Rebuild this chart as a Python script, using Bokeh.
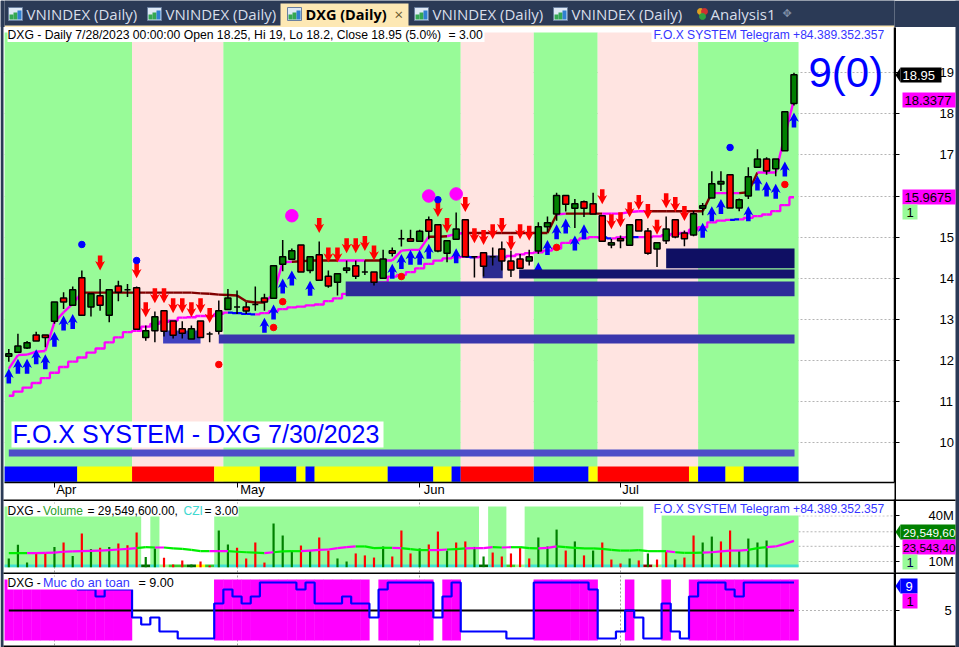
from bokeh.plotting import figure
from bokeh.layouts import column
from bokeh.models import Range1d, Label, BoxAnnotation, FixedTicker, Grid
from bokeh.core.properties import value
from bokeh.embed import file_html
from bokeh.resources import INLINE

# ---------- data ----------
opens = [12.10,12.20,12.30,12.62,12.62,12.95,13.52,13.34,14.01,13.30,13.57,13.10,13.81,13.72,13.77,12.56,12.72,13.21,12.96,12.77,
         12.52,12.96,12.64,12.71,13.24,13.30,13.30,13.36,13.52,13.51,14.34,14.46,14.81,14.19,14.57,14.05,13.90,14.195,14.30,14.15,
         14.15,14.00,14.67,14.96,14.96,14.90,15.42,15.30,14.61,14.95,15.42,14.52,14.62,14.52,14.71,14.42,14.47,14.42,14.66,15.25,
         15.56,16.01,15.70,15.86,15.81,15.52,14.81,14.96,14.80,15.42,15.15,14.71,14.91,15.42,15.10,15.05,15.70,15.95,16.29,16.52,
         15.71,16.00,16.70,16.90,16.66,17.10,18.25]
closes = [12.16,12.35,12.43,12.47,12.56,13.42,13.42,13.72,13.10,13.62,13.34,13.72,13.66,13.72,12.76,12.72,13.06,12.71,12.61,12.66,
          12.77,12.56,12.64,13.21,13.52,13.30,13.20,13.36,13.42,14.30,14.52,14.67,14.15,14.52,13.95,13.81,14.11,14.25,14.05,14.15,
          13.90,14.47,14.61,14.96,14.90,15.14,15.14,14.66,14.91,15.20,14.52,14.52,14.29,14.52,14.42,14.20,14.24,14.52,15.25,15.35,
          16.01,15.80,15.81,15.70,15.56,14.90,14.86,14.91,15.30,15.15,14.61,14.86,15.20,15.00,14.96,15.57,15.76,16.30,16.35,15.71,
          15.91,16.47,16.90,16.61,16.90,18.05,18.95]
highs = [12.28,12.65,12.47,12.70,12.62,13.42,13.66,13.80,14.19,13.62,13.98,13.72,13.94,13.86,13.80,12.85,13.19,13.21,12.96,12.95,
         12.85,12.96,12.70,13.46,13.74,13.70,13.42,13.80,13.62,14.30,14.93,14.72,14.81,14.52,14.89,14.19,14.11,14.43,14.43,14.43,
         14.15,14.69,14.75,15.18,15.18,15.18,15.50,15.30,14.91,15.60,15.42,14.52,14.62,14.75,14.89,14.67,14.59,14.69,15.36,15.50,
         16.08,16.01,15.93,15.89,16.08,15.52,14.96,15.04,15.30,15.42,15.22,14.86,15.50,15.42,15.16,15.65,15.83,16.60,16.60,16.52,
         15.94,16.70,17.14,16.94,16.90,18.05,19.00]
lows = [11.97,12.20,12.28,12.47,12.32,12.89,13.25,13.34,13.10,13.07,13.21,12.93,13.44,13.54,12.76,12.48,12.44,12.58,12.53,12.53,
        12.52,12.56,12.44,12.63,13.24,13.13,13.13,13.21,13.21,13.51,14.17,14.46,14.15,14.12,13.95,13.77,13.58,14.12,13.98,14.08,
        13.82,14.00,14.53,14.77,14.88,14.88,14.95,14.63,14.39,14.95,14.52,14.02,14.04,14.31,14.19,14.03,14.24,14.31,14.59,15.12,
        15.40,15.62,15.22,15.49,15.56,14.90,14.73,14.73,14.80,15.15,14.57,14.27,14.83,14.97,14.78,15.02,15.53,15.95,16.12,15.71,
        15.63,15.93,16.70,16.52,16.48,17.10,18.20]
fast_line = [11.80,12.13,12.14,12.21,12.23,12.93,13.17,13.38,13.65,13.65,13.65,13.65,13.65,13.65,13.65,13.65,13.65,13.65,13.65,13.65,
             13.65,13.63,13.62,13.60,13.59,13.58,13.44,13.41,13.41,13.62,14.39,14.40,14.41,14.43,14.43,14.43,14.43,14.43,14.43,14.43,
             14.43,14.43,14.43,14.67,14.69,14.69,15.01,15.01,15.02,15.08,15.10,15.10,15.10,15.10,15.10,15.10,15.10,15.10,15.10,15.10,
             15.55,15.57,15.57,15.57,15.57,15.57,15.57,15.57,15.61,15.63,15.63,15.63,15.63,15.63,15.63,15.63,15.63,16.07,16.07,16.07,
             16.07,16.09,16.57,16.57,16.57,17.47,18.34]
fast_kind = "mmmmmmmmm" + "rrrrrrrrrrrrrrrrrrrr" + "mmm" + "rrrrr" + "mmm" + "rr" + "mmmmm" + "rr" + "mm" + "rrrrrrrrrr" + "m" + "rrrr" + "mmmmm" + "rrrrrrr" + "mmm" + "rr" + "mmmmmm"
slow_line = [11.14,11.24,11.34,11.45,11.57,11.70,11.84,11.97,12.07,12.19,12.29,12.44,12.56,12.69,12.72,12.82,12.89,12.94,12.97,13.04,
             13.05,13.08,13.08,13.13,13.16,13.15,13.13,13.12,13.15,13.20,13.25,13.29,13.31,13.34,13.36,13.44,13.51,13.62,13.66,13.74,
             13.82,13.90,14.04,14.08,14.15,14.24,14.35,14.43,14.48,14.51,14.52,14.51,14.52,14.52,14.51,14.54,14.58,14.61,14.63,14.67,
             14.72,14.86,14.92,14.97,15.00,14.99,14.97,14.99,15.00,15.00,15.00,15.02,15.05,15.08,15.10,15.18,15.24,15.36,15.40,15.42,
             15.43,15.47,15.51,15.55,15.63,15.78,15.97]
slow_blue = [25,26,27,51,66,69,80]
up_bars = [0,1,2,3,4,5,6,7,28,29,30,31,33,42,43,44,45,46,49,58,59,60,61,62,63,76,77,78,81,82,83,84,85,86]
up_tips = [11.80,12.04,12.04,12.27,12.15,12.70,13.09,13.13,13.04,13.36,13.99,14.19,13.94,14.35,14.59,14.69,14.69,14.84,14.73,14.39,
           14.93,15.31,15.45,15.04,15.31,15.35,15.75,15.93,15.75,16.50,16.35,16.30,16.84,18.03]
down_bars = [10,14,15,16,17,18,19,20,21,22,34,35,36,37,38,39,40,47,48,50,51,52,53,54,55,56,57,65,66,67,68,69,70,71,72,73,74]
down_tips = [14.19,14.00,13.05,13.39,13.39,13.15,13.15,13.05,13.15,12.91,15.10,14.38,14.38,14.61,14.61,14.66,14.43,15.49,15.10,15.61,
             14.85,14.81,14.95,15.10,14.67,14.95,14.91,15.80,15.19,15.24,15.48,15.66,15.44,15.06,15.70,15.61,15.39]
blue_dot_bars, blue_dot_vals = [8,14,47,79], [14.82,14.43,15.91,17.18]
red_dot_bars, red_dot_vals = [23,29,30,43,60,85], [11.90,12.80,13.43,14.04,14.75,16.28]
pink_bars, pink_vals = [31,46,49], [15.52,16.00,16.05]
band_edges = [-0.5,13.5,23.5,49.5,57.5,64.5,75.5,86.5]
band_colors = ["#98fb98","#ffe4e1","#98fb98","#ffe4e1","#98fb98","#ffe4e1","#98fb98"]
zone_left = [16.9,51.9,36.9,55.9,72.0,23.0,0.0]
zone_right = [21.0,54.1,86.06,86.06,86.06,86.06,86.06]
zone_low = [12.41,14.00,13.56,13.99,14.24,12.41,9.66]
zone_high = [12.73,14.55,13.92,14.21,14.72,12.63,9.83]
zone_colors = ["#4040c0","#2b2b90","#2e2a9a","#14146e","#0f0f63","#3a36ac","#4e4ec8"]
strip_edges = [-0.5,7.5,13.5,22.5,27.5,31.5,32.5,33.5,41.5,46.5,48.5,49.5,57.5,63.5,64.5,74.5,75.5,78.5,80.5,86.5]
strip_colors = ["#0000ff","#ffff00","#ff0000","#ffff00","#0000ff","#ffff00","#0000ff","#ffff00","#0000ff","#ffff00","#0000ff",
                "#ff0000","#0000ff","#ffff00","#ff0000","#ffff00","#0000ff","#ffff00","#0000ff"]
price_ticks = [10,11,12,13,14,15,16,17,18,19]
month_ticks = [5,25,45,67]
month_label_pos = [6.3,26.7,46.6,68.1]
month_labels = ["Apr","May","Jun","Jul"]

volume = [12.0,21.0,9.3,15.7,15.5,19.6,22.5,13.7,28.4,18.3,19.0,19.6,21.8,20.7,29.1,13.0,18.6,12.4,8.0,10.7,
          8.0,10.0,7.4,30.4,21.2,19.0,12.0,22.5,9.3,35.0,27.1,17.0,20.5,17.2,25.8,17.2,12.0,10.0,15.3,14.0,
          12.6,19.9,13.3,30.4,15.3,18.6,21.2,29.7,17.2,22.5,23.2,19.6,13.3,15.9,13.3,15.3,19.2,12.0,25.8,19.9,
          31.0,17.2,23.2,14.0,17.2,22.5,11.3,8.7,12.0,10.7,15.3,11.3,16.6,11.3,12.6,27.1,22.5,26.4,23.2,30.4,
          17.2,25.1,22.5,23.8,21.8,39.6,29.55]
volume_kind = "gggrrgrgrgrgrrrggrrrgrrggrrrrggg" + "rgrrggrrrgrrrgrrgrrg" + "grrrrrg" + "ggrgrgrrrgrgrrgrrggrrgggg"
vol_ma = [15.5,15.5,15.5,15.5,15.7,15.9,16.4,16.6,16.8,17.0,17.2,17.5,17.9,18.3,18.8,19.4,19.2,19.2,18.6,18.3,
          17.7,16.8,16.8,16.8,16.8,16.4,16.1,15.9,15.5,16.1,16.6,16.8,16.8,17.2,17.7,17.9,18.8,19.4,19.9,19.9,
          18.8,19.0,19.0,18.8,18.1,17.5,17.5,17.5,17.9,18.1,18.6,18.8,18.8,19.4,19.2,19.4,19.4,18.8,18.6,19.0,
          19.9,19.4,19.0,18.6,18.6,18.3,17.7,17.2,17.2,17.5,16.8,16.8,16.8,16.1,15.7,15.7,15.9,16.1,16.6,17.2,
          17.2,17.7,18.8,19.4,19.9,21.6,23.54]
vol_ma_kind = "mgg" + "mmmmmmmmmmmm" + "gg" + "m" + "ggggg" + "mm" + "gggg" + "m" + "ggg" + "mmmmmm" + "gggg" + "mg" + "ggmm" + "gg" + "mmm" + "gmgg" + "g" + "mm" + "gggggggggggg" + "mggg" + "mmmmmgg" + "mmmmmmm"
vol_ma_kind = (vol_ma_kind + "m"*87)[:87]
vol_zone_edges = [-0.5,14.5,15.5,16.5,22.5,51.5,52.5,54.5,56.5,69.5,71.5,86.5]
vol_zone_on = [1,0,1,0,1,0,1,0,1,0,1]
czi_edges = [-0.5,14.5,15.5,16.5,17.5,19.5,20.5,21.5,22.5,51.5,52.5,54.5,55.5,56.5,69.5,70.5,71.5,86.5]
czi_colors = ["#40e0d0","#006400","#40e0d0","#98fb98","#32cd32","#006400","#ffff00","#32cd32","#40e0d0","#006400","#40e0d0",
              "#32cd32","#98fb98","#40e0d0","#8b0000","#98fb98","#40e0d0"]
vol_ticks = [10,20,30,40]
vol_tick_labels = {10:"10M",20:"",30:"",40:"40M"}
vol_levels = [10,20,29.55,40]

safety = [9,9,9,9,9,9,9,9,8,8,7,8,8,8,4,3,4,2,2,1,1,1,1,6,8,7,6,7,9,9,9,9,8,9,6,6,6,7,6,6,
          4,8,9,9,9,9,9,4,7,9,2,2,2,2,2,1,1,1,9,9,9,9,9,9,8,1,1,2,5,4,1,1,6,2,1,7,9,9,9,8,7,9,9,9,9,9,9]
safety_mid = 5

n = len(closes)
bars = list(range(n))
X0, DX = 8.3, 9.13             # reference pixel of bar 0 and spacing
xmin, xmax = (4-X0)/DX, (894-X0)/DX
FONT = "Liberation Sans"
DARK = "#2b3a56"
CREAM = "#fde8b4"

TOPS = {}

def lab(p, x, y, text, color="black", size=12, align="left", style="normal", font=FONT):
    T = TOPS[p.id]
    p.add_layout(Label(x=x, y=y-T, x_units="canvas", y_units="canvas", text=text, text_color=color,
                       text_font_size=f"{size}px", text_font=font, text_align=align,
                       text_baseline="middle", text_font_style=style, level="overlay"))

def box(p, l, r, t, b, color):
    T = TOPS[p.id]
    p.add_layout(BoxAnnotation(left=l, right=r, top=t-T, bottom=b-T, left_units="canvas", right_units="canvas",
                               top_units="canvas", bottom_units="canvas",
                               fill_color=color, fill_alpha=1, line_color=None, level="overlay"))

def base_fig(height, top, bottom, ymin, ymax, x_range=None, bfill="white"):
    p = figure(width=959, height=height, frame_width=890, frame_height=bottom-top,
               x_range=x_range or Range1d(xmin, xmax), y_range=Range1d(ymin, ymax),
               output_backend="svg", toolbar_location=None, y_axis_location="right",
               min_border_left=4, min_border_right=65, min_border_top=0, min_border_bottom=height-(bottom-top),
               background_fill_color="white", border_fill_color=bfill)
    p.outline_line_color = None
    TOPS[p.id] = top
    return p

def style_y(ax, ticks, standoff):
    ax.ticker = FixedTicker(ticks=ticks)
    ax.axis_line_color = "black"
    ax.axis_line_width = 1.5
    ax.major_tick_line_color = "black"
    ax.major_tick_line_width = 1
    ax.major_tick_out = 5
    ax.major_tick_in = 0
    ax.minor_tick_line_color = None
    ax.major_label_standoff = standoff
    ax.major_label_text_font = FONT
    ax.major_label_text_font_size = "13px"
    ax.major_label_text_color = "black"

def seg_lines(p, vals, kinds, cmap, width, step=False):
    xs, ys, cs = [], [], []
    for i in range(1, len(vals)):
        if step:
            xs.append([i-1, i-0.5, i-0.5, i]); ys.append([vals[i-1], vals[i-1], vals[i], vals[i]])
        else:
            xs.append([i-1, i]); ys.append([vals[i-1], vals[i]])
        cs.append(cmap[kinds[i]])
    p.multi_line(xs=xs, ys=ys, line_color=cs, line_width=width)

# ---------- tab strip ----------
tabs = base_fig(27, 0, 27, 27, 0, x_range=Range1d(4, 894), bfill=DARK)
tabs.background_fill_color = DARK
tabs.xaxis.visible = False
tabs.yaxis.visible = False
tabs.grid.visible = False
tabs.quad(left=[280], right=[408], top=[3], bottom=[26], fill_color=CREAM, line_color=None)
tabs.quad(left=[4], right=[894], top=[25], bottom=[27], fill_color=CREAM, line_color=None)
tab_x = [8, 147, 287, 414, 553]
tab_names = ["VNINDEX (Daily)", "VNINDEX (Daily)", "DXG (Daily)", "VNINDEX (Daily)", "VNINDEX (Daily)"]
for tx, name in zip(tab_x, tab_names):
    tabs.quad(left=[tx], right=[tx+14], top=[7], bottom=[20], fill_color="#dfe9f5", line_color="#6a7f9f")
    tabs.quad(left=[tx+1, tx+5, tx+9], right=[tx+5, tx+9, tx+13], top=[14, 12, 10], bottom=[19, 19, 19],
              fill_color=["#34a853", "#34a853", "#2f7fd0"], line_color=None)
    active = name.startswith("DXG")
    tabs.text(x=[tx+18], y=[13.5], text=[name], text_font=value("Open Sans"),
              text_font_size="14.5px" if active else "15px",
              text_color="black" if active else "#d8deea", text_baseline="middle",
              text_font_style="bold" if active else "normal")
tabs.text(x=[394], y=[13], text=["×"], text_font=value("Open Sans"), text_font_size="15px", text_color="#6b5a30", text_baseline="middle")
tabs.scatter(x=[700, 704], y=[11, 11], size=6, color=["#e0a020", "#d03030"])
tabs.scatter(x=[702], y=[16], size=6, color=["#30a040"])
tabs.text(x=[710], y=[13.5], text=["Analysis1"], text_font=value("Open Sans"), text_font_size="15px", text_color="#d8deea", text_baseline="middle")
tabs.text(x=[782], y=[13], text=["✥"], text_font=value("DejaVu Sans"), text_font_size="11px", text_color="#8090a8", text_baseline="middle")

# ---------- price pane ----------
def py(y):                    # reference pixel -> price, for pane limits only
    return 18 + (113.3 - y)/41.1

main = base_fig(472, 27, 482, py(482), py(27))
style_y(main.yaxis[0], price_ticks, 40)
main.xgrid.visible = False
main.ygrid.grid_line_color = "#b4b4b4"
main.ygrid.grid_line_dash = "2 2"
main.ygrid.ticker = FixedTicker(ticks=price_ticks)
xa = main.xaxis[0]
xa.ticker = FixedTicker(ticks=month_label_pos, minor_ticks=month_ticks)
xa.major_label_overrides = dict(zip(month_label_pos, month_labels))
xa.major_label_text_font = FONT
xa.major_label_text_font_size = "13px"
xa.major_label_text_color = "black"
xa.major_label_standoff = -6
xa.major_tick_out = 5
xa.major_tick_in = 0
xa.major_tick_line_color = None
xa.minor_tick_out = 5
xa.minor_tick_in = 0
xa.minor_tick_line_color = "black"
xa.axis_line_color = "black"
xa.axis_line_width = 1.5

main.quad(left=band_edges[:-1], right=band_edges[1:], top=py(32), bottom=py(482), fill_color=band_colors, line_color=None)
main.quad(left=strip_edges[:-1], right=strip_edges[1:], top=9.42, bottom=9.05, fill_color=strip_colors, line_color=None)

slow_kind = "".join("b" if i in slow_blue else "m" for i in bars)
seg_lines(main, slow_line, slow_kind, {"m": "#ff00ff", "b": "#0000ff"}, 2.3, step=True)
seg_lines(main, fast_line, fast_kind, {"m": "#ff00ff", "r": "#800000"}, 2.4)

AH, HW, SW = 0.365, 0.54, 0.25   # arrow height in price, half widths in bars
up_xs = [[b, b+HW, b+SW, b+SW, b-SW, b-SW, b-HW] for b in up_bars]
up_ys = [[t, t-AH*0.62, t-AH*0.52, t-AH, t-AH, t-AH*0.52, t-AH*0.62] for t in up_tips]
main.patches(up_xs, up_ys, fill_color="#0000ff", line_color=None)
dn_xs = [[b, b+HW, b+SW, b+SW, b-SW, b-SW, b-HW] for b in down_bars]
dn_ys = [[t, t+AH*0.62, t+AH*0.52, t+AH, t+AH, t+AH*0.52, t+AH*0.62] for t in down_tips]
main.patches(dn_xs, dn_ys, fill_color="#ff0000", line_color=None)

main.scatter(blue_dot_bars, blue_dot_vals, marker="circle", size=6.5, color="#0000ff")
main.scatter(red_dot_bars, red_dot_vals, marker="circle", size=6.5, color="#ff0000")
main.scatter(pink_bars, pink_vals, marker="circle", size=12.5, color="#ff00ff")

main.quad(left=zone_left, right=zone_right, top=zone_high, bottom=zone_low, fill_color=zone_colors, line_color=None)

main.segment(bars, lows, bars, highs, line_color="black", line_width=1.5)
body_colors = ["#008000" if c > o else "#ff0000" if c < o else "black" for o, c in zip(opens, closes)]
main.vbar(x=bars, width=0.66, top=closes, bottom=opens, fill_color=body_colors, line_color="black", line_width=1.5)

# header texts
box(main, 7, 484, 27, 41.5, "white")
lab(main, 7, 34.5, "DXG - Daily 7/28/2023 00:00:00 Open 18.25, Hi 19, Lo 18.2, Close 18.95 (5.0%)", size=12.2)
lab(main, 448, 34.5, "= 3.00", size=12.2)
box(main, 651, 887, 27, 41.5, "white")
lab(main, 653, 34, "F.O.X SYSTEM Telegram +84.389.352.357", "#3535ff", 12.1)
lab(main, 808, 72, "9(0)", "#0000ff", 42)
box(main, 11, 383, 421, 447, "white")
lab(main, 12, 433.5, "F.O.X SYSTEM - DXG 7/30/2023", "#0000ff", 25)

# ---------- volume pane ----------
def vy(y):
    return 10 + (561 - y)/1.52

vol = base_fig(73, 499, 572, vy(572), vy(499))
style_y(vol.yaxis[0], vol_ticks, 29)
vol.yaxis[0].major_label_overrides = vol_tick_labels
vol.xaxis.visible = False
vol.grid.visible = False
vol.add_layout(Grid(dimension=0, ticker=FixedTicker(ticks=month_ticks), grid_line_color="#a0a0a0", grid_line_dash="2 2"))
vol.segment(x0=[86.5]*4, y0=vol_levels, x1=[xmax]*4, y1=vol_levels, line_color="#b4b4b4", line_dash="2 2")

vz_left = [e for e, on in zip(vol_zone_edges[:-1], vol_zone_on) if on]
vz_right = [e for e, on in zip(vol_zone_edges[1:], vol_zone_on) if on]
vol.quad(left=vz_left, right=vz_right, top=vy(506), bottom=6.27, fill_color="#98fb98", line_color=None)
vol.quad(left=czi_edges[:-1], right=czi_edges[1:], top=8.0, bottom=6.27, fill_color=czi_colors, line_color=None)
vol_colors = ["#008000" if k == "g" else "#ff0000" for k in volume_kind]
vol.vbar(x=bars, width=0.24, top=volume, bottom=6.27, fill_color=vol_colors, line_color=None)
seg_lines(vol, vol_ma, vol_ma_kind, {"m": "#ff00ff", "g": "#00ee00"}, 2.2)

box(vol, 7, 238, 503, 516, "white")
lab(vol, 7, 510, "DXG - ")
lab(vol, 42.5, 510, "Volume", "#2aa02a")
lab(vol, 87, 510, "= 29,549,600.00,")
lab(vol, 183, 510, "CZI", "#40d8d0")
lab(vol, 204, 510, "= 3.00")
box(vol, 651, 887, 501, 515, "white")
lab(vol, 653, 508.5, "F.O.X SYSTEM Telegram +84.389.352.357", "#3535ff", 12.1)

# ---------- safety pane ----------
def sy(y):
    return 5 + (610 - y)/7

safe = base_fig(75, 572, 645, sy(645), sy(572))
style_y(safe.yaxis[0], [5], 45)
safe.xaxis.visible = False
safe.grid.visible = False
safe.add_layout(Grid(dimension=0, ticker=FixedTicker(ticks=month_ticks), grid_line_color="#a0a0a0", grid_line_dash="2 2"))
safe.segment(x0=[86], y0=[safety_mid], x1=[xmax], y1=[safety_mid], line_color="#b4b4b4", line_dash="2 2")
safe_bars = [b for b in bars if safety[b] >= safety_mid]
safe.quad(left=[b-0.52 for b in safe_bars], right=[b+0.52 for b in safe_bars], top=9.43, bottom=0.71, fill_color="#ff00ff", line_color=None)
safe.line([bars[0], bars[-1]], [safety_mid, safety_mid], line_color="black", line_width=2)
safe.step(bars, safety, mode="center", line_color="#0000ff", line_width=2.2)

box(safe, 7, 163, 576, 589, "white")
lab(safe, 7, 582, "DXG - ")
lab(safe, 42.5, 582, "Muc do an toan", "#3535ff", 12.6)
lab(safe, 138, 582, "= 9.00", size=12.6)

# ---------- transparent sheet over the panes: window frame and value tags ----------
sheet = figure(width=959, height=647, x_range=Range1d(0, 959), y_range=Range1d(647, 0),
               output_backend="svg", toolbar_location=None, x_axis_location=None, y_axis_location=None,
               min_border=0, background_fill_alpha=0, border_fill_alpha=0,
               styles={"position": "absolute", "left": "0px", "top": "0px", "pointer-events": "none"})
sheet.grid.visible = False
sheet.outline_line_color = None
sheet.quad(left=[0, 955, 894, 3, 3, 3], right=[3, 959, 895.5, 955, 955, 955],
           top=[0, 0, 27, 499, 572, 645], bottom=[647, 647, 647, 500.5, 573.5, 646.5],
           fill_color=[DARK, DARK, "black", "black", "black", "black"], line_color=None)

def tag(l, r, t, b, color, text, tcolor="black", pointer=False, center=False, size=13, pad=2):
    sheet.quad(left=[l], right=[r], top=[t], bottom=[b], fill_color=color, line_color=None)
    if pointer:
        sheet.patch([l, l-5, l], [t, (t+b)/2, b], fill_color=color, line_color=None)
    sheet.text(x=[(l+r)/2 if center else l+pad], y=[(t+b)/2+0.5], text=[text], text_color=tcolor,
               text_font=value(FONT), text_font_size=f"{size}px", text_baseline="middle",
               text_align="center" if center else "left")

tag(900, 941, 67, 82, "black", "18.95", "white", pointer=True)
tag(902, 955, 92, 107, "#ff00ff", "18.3377")
tag(902, 955, 189, 204, "#ff00ff", "15.9675")
tag(902, 917, 204, 219, "#98fb98", "1", center=True)
tag(900, 955, 524, 539, "#008000", "29,549,60", "white", pointer=True, size=11.8, pad=2.5)
tag(902, 955, 539, 554, "#ff00ff", "23,543,40", size=11.8, pad=0.5)
tag(902, 917, 554, 569, "#98fb98", "1", "#000050", center=True)
tag(900, 917, 578, 593, "#0000ff", "9", "white", pointer=True, center=True)
tag(902, 917, 593, 608, "#ff00ff", "1", center=True)

page = column(tabs, main, vol, safe, spacing=0,
              styles={"position": "absolute", "left": "0px", "top": "0px"})
open("out.html", "w").write(file_html([page, sheet], INLINE))
